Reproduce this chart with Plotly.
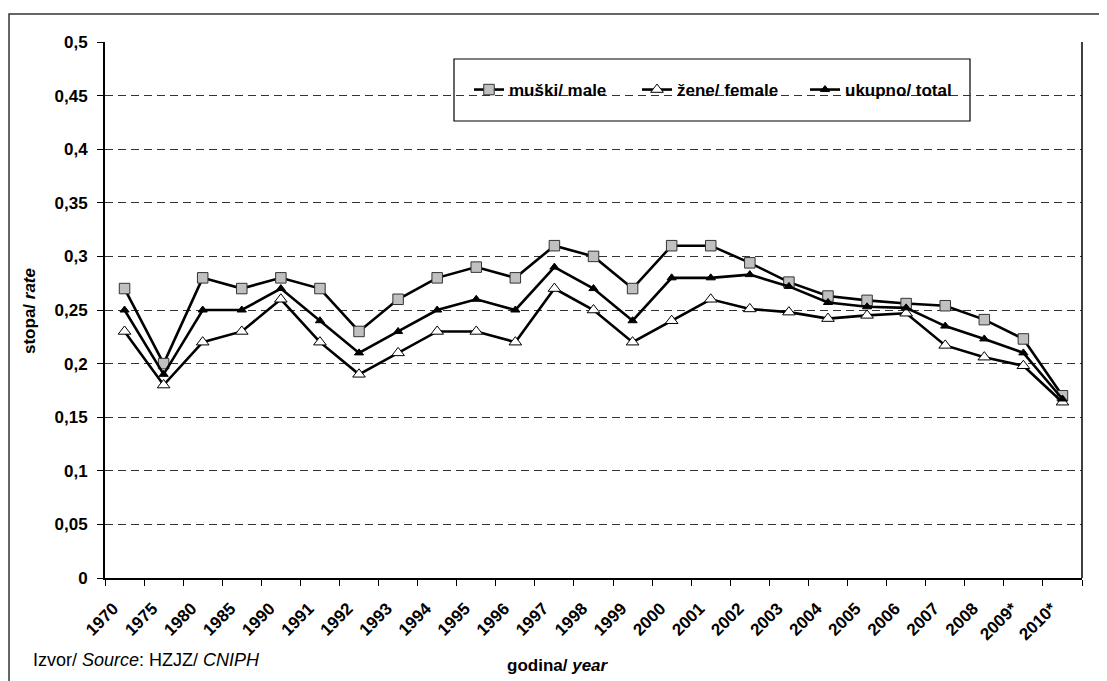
import plotly.graph_objects as go

categories = ["1970", "1975", "1980", "1985", "1990", "1991", "1992", "1993", "1994",
              "1995", "1996", "1997", "1998", "1999", "2000", "2001", "2002", "2003",
              "2004", "2005", "2006", "2007", "2008", "2009*", "2010*"]
male = [0.27, 0.20, 0.28, 0.27, 0.28, 0.27, 0.23, 0.26, 0.28, 0.29, 0.28, 0.31, 0.30,
        0.27, 0.31, 0.31, 0.294, 0.276, 0.263, 0.259, 0.256, 0.254, 0.241, 0.223, 0.170]
female = [0.23, 0.18, 0.22, 0.23, 0.26, 0.22, 0.19, 0.21, 0.23, 0.23, 0.22, 0.27, 0.25,
          0.22, 0.24, 0.26, 0.251, 0.248, 0.242, 0.245, 0.247, 0.217, 0.206, 0.198, 0.164]
total = [0.25, 0.19, 0.25, 0.25, 0.27, 0.24, 0.21, 0.23, 0.25, 0.26, 0.25, 0.29, 0.27,
         0.24, 0.28, 0.28, 0.283, 0.272, 0.257, 0.253, 0.252, 0.235, 0.223, 0.210, 0.167]
y_ticks = [0, 0.05, 0.1, 0.15, 0.2, 0.25, 0.3, 0.35, 0.4, 0.45, 0.5]
y_ticktext = ["0", "0,05", "0,1", "0,15", "0,2", "0,25", "0,3", "0,35", "0,4", "0,45", "0,5"]

W, H = 1107, 681
OFF = 8  # page body margin offset
L, R, T, B = 105 - OFF, 1082 - OFF, 42 - OFF, 578 - OFF
FONT = "Liberation Sans, Arial, sans-serif"
FS = 17


def px(xp):
    # xp given in page pixel coordinates
    return (xp - OFF - L) / (R - L)


def py(yp):
    return (B - (yp - OFF)) / (B - T)


fig = go.Figure()
fig.add_trace(go.Scatter(
    x=categories, y=male, mode="lines+markers", name="muški/ male",
    line=dict(color="black", width=2.6),
    marker=dict(symbol="square", size=10.5, color="#c0c0c0", line=dict(color="#333333", width=1))))
fig.add_trace(go.Scatter(
    x=categories, y=female, mode="lines+markers", name="žene/ female",
    line=dict(color="black", width=2.6),
    marker=dict(symbol="triangle-up", size=11, color="white", line=dict(color="black", width=1))))
fig.add_trace(go.Scatter(
    x=categories, y=total, mode="lines+markers", name="ukupno/ total",
    line=dict(color="black", width=2.6),
    marker=dict(symbol="triangle-up", size=8, color="black", line=dict(color="black", width=1))))

fig.update_layout(
    width=W, height=H,
    margin=dict(l=L, r=W - R, t=T, b=H - B, pad=0),
    paper_bgcolor="white", plot_bgcolor="white",
    font=dict(family=FONT, size=FS, color="black"),
    showlegend=True,
    legend=dict(orientation="h", x=px(469), y=py(90), xanchor="left", yanchor="middle",
                bgcolor="rgba(0,0,0,0)", borderwidth=0,
                font=dict(family=FONT, size=FS, color="black", weight="bold"),
                entrywidth=123, entrywidthmode="pixels"),
    xaxis=dict(type="category", showline=True, linecolor="black", linewidth=2,
               ticks="outside", ticklen=6, tickwidth=1, tickcolor="black",
               tickson="boundaries", tickangle=-45, showgrid=False,
               ticklabelshift=-11, ticklabelstandoff=12,
               tickfont=dict(family=FONT, size=FS, color="black", weight="bold"),
               range=[-0.5, len(categories) - 0.5]),
    yaxis=dict(range=[0, 0.5], tickvals=y_ticks, ticktext=y_ticktext,
               showline=True, linecolor="black", linewidth=2,
               ticks="outside", ticklen=6, tickwidth=1, tickcolor="black",
               showgrid=True, gridcolor="#333333", gridwidth=1, griddash="8px,5px",
               zeroline=False, ticklabelstandoff=6,
               tickfont=dict(family=FONT, size=FS, color="black", weight="bold")),
)

# right border of plot area
fig.add_shape(type="line", xref="paper", yref="paper", x0=1, x1=1, y0=0, y1=1,
              line=dict(color="black", width=1.5))
# legend box
fig.add_shape(type="rect", xref="paper", yref="paper", x0=px(454), x1=px(970),
              y0=py(121), y1=py(59), line=dict(color="black", width=1.2),
              fillcolor="white", layer="below")
# outer frame
fig.add_shape(type="rect", xref="paper", yref="paper", x0=px(9), x1=px(1130),
              y0=py(700), y1=py(14), line=dict(color="#333333", width=1.5),
              layer="below")

fig.add_annotation(text="stopa/ <i>rate</i>", xref="paper", yref="paper",
                   x=px(29), y=py(311), xanchor="center", yanchor="middle",
                   textangle=-90, showarrow=False,
                   font=dict(family=FONT, size=FS, color="black", weight="bold"))
fig.add_annotation(text="godina/ <i>year</i>", xref="paper", yref="paper",
                   x=px(558), y=py(665), xanchor="center", yanchor="middle", showarrow=False,
                   font=dict(family=FONT, size=FS, color="black", weight="bold"))
fig.add_annotation(text="Izvor/ <i>Source</i>: HZJZ/ <i>CNIPH</i>", xref="paper", yref="paper",
                   x=px(31), y=py(660), xanchor="left", yanchor="middle", showarrow=False,
                   font=dict(family=FONT, size=18, color="black"))

fig.write_html("out.html")
